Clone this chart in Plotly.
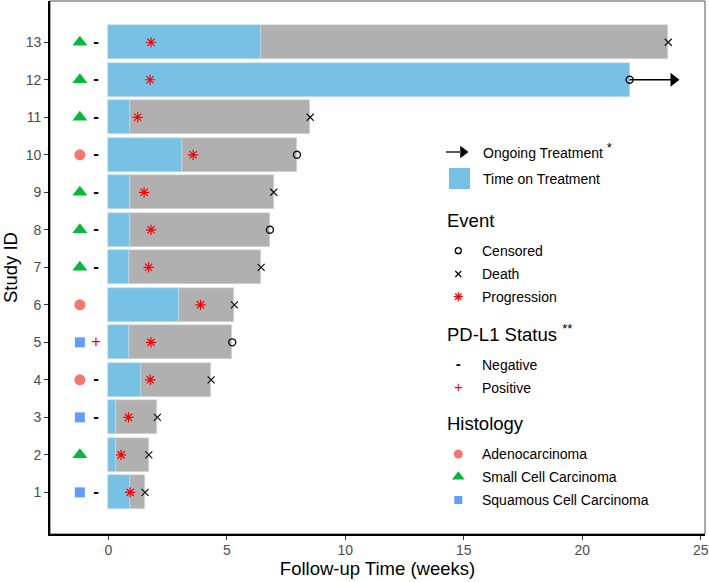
import plotly.graph_objects as go

# ---------------- data ----------------
study_ids = list(range(1, 14))
treatment_weeks = [0.92, 0.31, 0.31, 1.38, 0.89, 2.97, 0.87, 0.92, 0.92, 3.11, 0.92, 22.0, 6.46]
followup_weeks = [1.55, 1.71, 2.07, 4.34, 5.23, 5.32, 6.45, 6.82, 6.98, 7.96, 8.52, 22.0, 23.63]
progression_weeks = [0.92, 0.54, 0.85, 1.77, 1.80, 3.89, 1.70, 1.80, 1.51, 3.58, 1.24, 1.76, 1.80]
event_type = ["Death", "Death", "Death", "Death", "Censored", "Death", "Death",
              "Censored", "Death", "Censored", "Death", "Censored", "Death"]
histology = ["Squamous Cell Carcinoma", "Small Cell Carcinoma", "Squamous Cell Carcinoma",
             "Adenocarcinoma", "Squamous Cell Carcinoma", "Adenocarcinoma",
             "Small Cell Carcinoma", "Small Cell Carcinoma", "Small Cell Carcinoma",
             "Adenocarcinoma", "Small Cell Carcinoma", "Small Cell Carcinoma",
             "Small Cell Carcinoma"]
pdl1_status = ["Negative", "", "Negative", "Negative", "Positive", "", "Negative",
               "Negative", "Negative", "Negative", "Negative", "Negative", "Negative"]
ongoing_ids = [12]
ongoing_start = [22.0]
ongoing_end = [24.05]

x_ticks = [0, 5, 10, 15, 20, 25]

# ---------------- styles ----------------
FONT = "Arial, Liberation Sans, Helvetica, sans-serif"
BLUE = "#77C1E4"
GRAY = "#B0B0B0"
hist_style = {
    "Adenocarcinoma": ("circle", "#F8766D", 11),
    "Small Cell Carcinoma": ("triangle-up", "#00BA38", 13),
    "Squamous Cell Carcinoma": ("square", "#619CFF", 10),
}
pdl_style = {"Negative": ("<b>-</b>", "black"), "Positive": ("+", "red")}
HIST_X = -1.2
PDL_X = -0.52

fig = go.Figure()

# total follow-up (gray) bars
fig.add_trace(go.Bar(x=followup_weeks, y=study_ids, orientation="h", width=0.9,
                     marker=dict(color=GRAY, line=dict(color="#dcdcdc", width=0.6)),
                     showlegend=False, hoverinfo="skip"))
# time on treatment (blue) bars
fig.add_trace(go.Bar(x=treatment_weeks, y=study_ids, orientation="h", width=0.9,
                     marker=dict(color=BLUE, line=dict(color="#dcecf5", width=0.6)),
                     showlegend=False, hoverinfo="skip"))

# ongoing treatment arrows
for yid, xs, xe in zip(ongoing_ids, ongoing_start, ongoing_end):
    fig.add_trace(go.Scatter(x=[xs, xe - 0.3], y=[yid, yid], mode="lines",
                             line=dict(color="black", width=1.3), showlegend=False))
    fig.add_trace(go.Scatter(x=[xe - 0.2], y=[yid], mode="markers",
                             marker=dict(symbol="triangle-right", size=12, color="black"),
                             showlegend=False))

# events
ev_style = {"Death": ("x-thin-open", 7, 1.2), "Censored": ("circle-open", 7, 1.4)}
for ev, (sym, sz, lw) in ev_style.items():
    xs = [f for f, e in zip(followup_weeks, event_type) if e == ev]
    ys = [s for s, e in zip(study_ids, event_type) if e == ev]
    fig.add_trace(go.Scatter(x=xs, y=ys, mode="markers",
                             marker=dict(symbol=sym, size=sz, color="#111",
                                         line=dict(color="#111", width=lw)),
                             showlegend=False))

# progression
fig.add_trace(go.Scatter(x=progression_weeks, y=study_ids, mode="markers",
                         marker=dict(symbol="asterisk-open", size=8.5, color="red",
                                     line=dict(color="red", width=1.2)),
                         showlegend=False))

# histology markers
for h, (sym, col, sz) in hist_style.items():
    ys = [s for s, hh in zip(study_ids, histology) if hh == h]
    fig.add_trace(go.Scatter(x=[HIST_X] * len(ys), y=ys, mode="markers",
                             marker=dict(symbol=sym, size=sz, color=col),
                             showlegend=False))

# PD-L1 status
for p, (txt, col) in pdl_style.items():
    ys = [s for s, pp in zip(study_ids, pdl1_status) if pp == p]
    fig.add_trace(go.Scatter(x=[PDL_X] * len(ys), y=ys, mode="text",
                             text=[txt] * len(ys),
                             textfont=dict(size=17, color=col, family=FONT),
                             textposition="middle center", showlegend=False))

# ---------------- manual legend (pixel-like overlay axes) ----------------
L, R, T, B = 50, 705, 1, 534
def lg(x, y, **kw):
    fig.add_trace(go.Scatter(x=x, y=y, xaxis="x2", yaxis="y2", showlegend=False,
                             hoverinfo="skip", **kw))

def label(x, y, text, size=14):
    fig.add_annotation(x=x, y=y, xref="x2", yref="y2", text=text, showarrow=False,
                       xanchor="left", yanchor="middle",
                       font=dict(size=size, family=FONT, color="black"))

STAR = "<sup><span style='font-size:13px'>%s</span></sup>"
MX = 458.3
TX = 479.5
# Ongoing treatment
lg([446, 460], [152, 152], mode="lines", line=dict(color="black", width=1.3))
lg([463], [152], mode="markers", marker=dict(symbol="triangle-right", size=11, color="black"))
label(TX + 1, 150, "Ongoing Treatment " + STAR % "*")
fig.add_shape(type="rect", xref="x2", yref="y2", x0=449, x1=470, y0=168, y1=189,
              fillcolor=BLUE, line=dict(color=BLUE, width=0))
label(TX + 1, 178.5, "Time on Treatment")

# Event
label(445, 220, "Event", size=18.5)
lg([MX], [250.7], mode="markers", marker=dict(symbol="circle-open", size=6, color="black",
                                                 line=dict(color="black", width=1.3)))
label(TX, 250.7, "Censored")
lg([MX], [274], mode="markers", marker=dict(symbol="x-thin-open", size=6, color="black",
                                               line=dict(color="black", width=1.2)))
label(TX, 274, "Death")
lg([MX], [296.7], mode="markers", marker=dict(symbol="asterisk-open", size=7.5, color="red",
                                                 line=dict(color="red", width=1.2)))
label(TX, 296.7, "Progression")

# PD-L1
label(445, 332.5, "PD-L1 Status " + STAR % "**", size=18.5)
lg([MX], [365], mode="text", text=["<b>-</b>"], textfont=dict(size=15, color="black", family=FONT))
label(TX, 365, "Negative")
lg([MX], [388.3], mode="text", text=["+"], textfont=dict(size=15, color="red", family=FONT))
label(TX, 388.3, "Positive")

# Histology
label(445, 423.5, "Histology", size=18.5)
ly = {"Adenocarcinoma": 454, "Small Cell Carcinoma": 476.7, "Squamous Cell Carcinoma": 500}
for h, (sym, col, sz) in hist_style.items():
    lg([MX], [ly[h]], mode="markers", marker=dict(symbol=sym, size=sz - 2, color=col))
    label(TX, ly[h], h)

# plot frame (top/right)
fig.add_shape(type="rect", xref="paper", yref="paper", x0=0, x1=1, y0=0, y1=1,
              line=dict(color="#555555", width=1), layer="below")

fig.update_layout(
    width=709, height=582,
    margin=dict(l=L, r=709 - R, t=T, b=582 - B),
    paper_bgcolor="white", plot_bgcolor="white",
    barmode="overlay", bargap=0,
    font=dict(family=FONT, color="black"),
    xaxis=dict(range=[-2.46, 25.18], tickvals=x_ticks, ticks="outside", ticklen=4,
               tickcolor="#333", tickwidth=1.2, showgrid=False, zeroline=False,
               showline=True, linecolor="black", linewidth=1.6, automargin=False,
               ticklabelstandoff=-2,
               tickfont=dict(size=14, color="#4d4d4d"),
               title=dict(text="Follow-up Time (weeks)", font=dict(size=18.5), standoff=0)),
    yaxis=dict(range=[-0.11, 14.1], tickvals=study_ids, ticks="outside", ticklen=4,
               tickcolor="#333", tickwidth=1.2, showgrid=False, zeroline=False,
               showline=True, linecolor="black", linewidth=1.6, automargin=False,
               tickfont=dict(size=14, color="#4d4d4d"),
               title=dict(text="Study ID", font=dict(size=18.5), standoff=6)),
    xaxis2=dict(range=[L, R], overlaying="x", visible=False, domain=[0, 1]),
    yaxis2=dict(range=[B, T], overlaying="y", visible=False, domain=[0, 1]),
    showlegend=False,
)

fig.write_html("out.html", config={"displayModeBar": False},
               post_script="document.body.style.margin='0';")
